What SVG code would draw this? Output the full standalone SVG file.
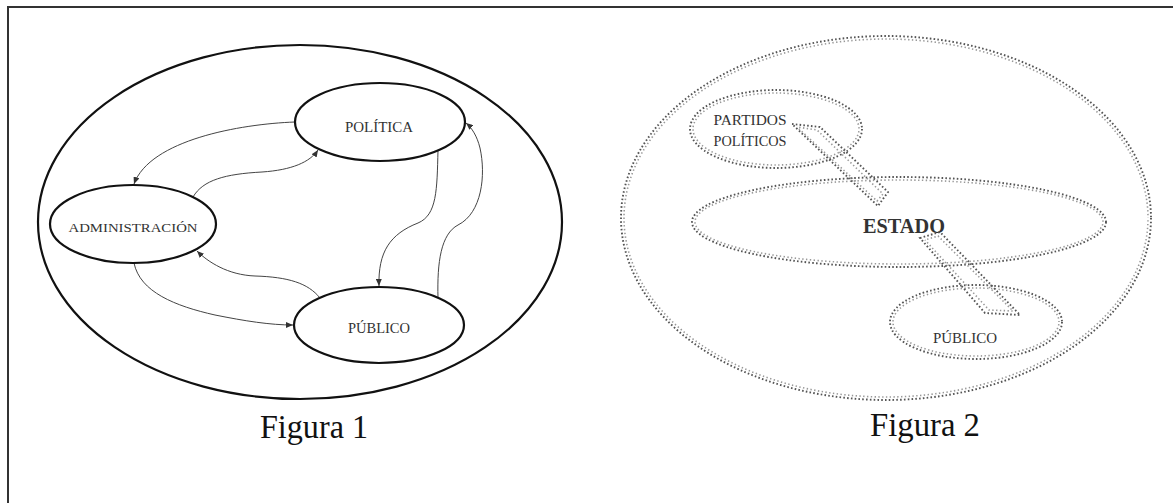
<svg xmlns="http://www.w3.org/2000/svg" width="1173" height="503" viewBox="0 0 1173 503">
  <style>
    .frame { fill: none; stroke: #333; stroke-width: 2; }
    .node1 { fill: #fff; stroke: #111; stroke-width: 2.2; }
    .outer1 { fill: none; stroke: #111; stroke-width: 2.2; }
    .link { fill: none; stroke: #444; stroke-width: 1; }
    .dotA { fill: none; stroke: #555; stroke-width: 1.9; stroke-dasharray: 1.6 2.2; }
    .dotB { fill: none; stroke: #999; stroke-width: 1.6; stroke-dasharray: 1.4 2.4; stroke-dashoffset: 1.6; }
    .lbl { font-family: "Liberation Serif", "Times New Roman", serif; fill: #333; text-anchor: middle; }
    .cap { font-family: "Liberation Serif", "Times New Roman", serif; fill: #111; }
  </style>
  <defs>
    <marker id="arr" markerWidth="7" markerHeight="6" refX="7" refY="3" orient="auto" markerUnits="userSpaceOnUse">
      <path d="M0,0 L7,3 L0,6 z" fill="#333"/>
    </marker>
  </defs>

  <rect width="1173" height="503" fill="#fff"/>
  <!-- page frame: left and top edges -->
  <path class="frame" d="M8,503 L8,7 L1173,7"/>

  <!-- Figura 1 -->
  <g id="fig1">
    <ellipse id="fig1-outer" class="outer1" cx="300" cy="222" rx="262" ry="177"/>
    <g id="fig1-connectors">
      <path class="link" d="M295,122 C240,124 150,140 134,184" marker-end="url(#arr)"/>
      <path class="link" d="M193,197 C203,180 225,174 262,172 C292,170 310,162 318,150" marker-end="url(#arr)"/>
      <path class="link" d="M320,298 C308,283 288,277 255,276 C228,275 208,262 197,251" marker-end="url(#arr)"/>
      <path class="link" d="M134,263 C140,292 175,306 215,315 C245,321 270,325 293,325" marker-end="url(#arr)"/>
      <path class="link" d="M438,150 C437,190 437,215 418,223 C390,234 378,252 379,286" marker-end="url(#arr)"/>
      <path class="link" d="M438,298 C437,262 441,234 458,225 C482,213 486,175 480,148 C477,136 472,128 466,123" marker-end="url(#arr)"/>
    </g>
    <g id="politica">
      <ellipse class="node1" cx="380" cy="122" rx="85" ry="39"/>
      <text class="lbl" x="379" y="132" font-size="14" textLength="68" lengthAdjust="spacingAndGlyphs">POLÍTICA</text>
    </g>
    <g id="administracion">
      <ellipse class="node1" cx="133" cy="224" rx="83" ry="39"/>
      <text class="lbl" x="133" y="232" font-size="13.5" textLength="129" lengthAdjust="spacingAndGlyphs">ADMINISTRACIÓN</text>
    </g>
    <g id="publico1">
      <ellipse class="node1" cx="379" cy="325" rx="85" ry="38"/>
      <text class="lbl" x="379" y="333" font-size="14" textLength="62" lengthAdjust="spacingAndGlyphs">PÚBLICO</text>
    </g>
    <text class="cap" x="260" y="438" font-size="34" textLength="108" lengthAdjust="spacingAndGlyphs">Figura 1</text>
  </g>

  <!-- Figura 2: dotted outlines drawn as two offset rows of dots -->
  <g id="fig2">
    <g id="fig2-outer">
      <ellipse class="dotA" cx="886" cy="218" rx="265" ry="182"/>
      <ellipse class="dotB" cx="886" cy="218" rx="262" ry="179"/>
    </g>
    <g id="partidos">
      <ellipse class="dotA" cx="776" cy="129" rx="86" ry="39"/>
      <ellipse class="dotB" cx="776" cy="129" rx="83" ry="36"/>
      <text class="lbl" x="750" y="125" font-size="14" textLength="73" lengthAdjust="spacingAndGlyphs">PARTIDOS</text>
      <text class="lbl" x="750" y="146" font-size="14" textLength="73" lengthAdjust="spacingAndGlyphs">POLÍTICOS</text>
    </g>
    <g id="estado">
      <ellipse class="dotA" cx="899" cy="222" rx="207" ry="45"/>
      <ellipse class="dotB" cx="899" cy="222" rx="204" ry="42"/>
      <text class="lbl" x="904" y="233" font-size="20" font-weight="bold" fill="#111" textLength="82" lengthAdjust="spacingAndGlyphs">ESTADO</text>
    </g>
    <g id="publico2">
      <ellipse class="dotA" cx="976" cy="322" rx="86" ry="37"/>
      <ellipse class="dotB" cx="976" cy="322" rx="83" ry="34"/>
      <text class="lbl" x="965" y="343" font-size="14" textLength="64" lengthAdjust="spacingAndGlyphs">PÚBLICO</text>
    </g>
    <g id="fig2-connectors">
      <path class="dotA" d="M792,124 L820,127 L888,192 L878,206 Z"/>
      <path class="dotB" d="M797,127 L817,130 L883,194 L877,201 Z"/>
      <path class="dotA" d="M920,238 L940,232 L1020,315 L985,313 Z"/>
      <path class="dotB" d="M925,240 L938,236 L1013,311 L989,310 Z"/>
    </g>
    <text class="cap" x="870" y="436" font-size="34" textLength="110" lengthAdjust="spacingAndGlyphs">Figura 2</text>
  </g>
</svg>
